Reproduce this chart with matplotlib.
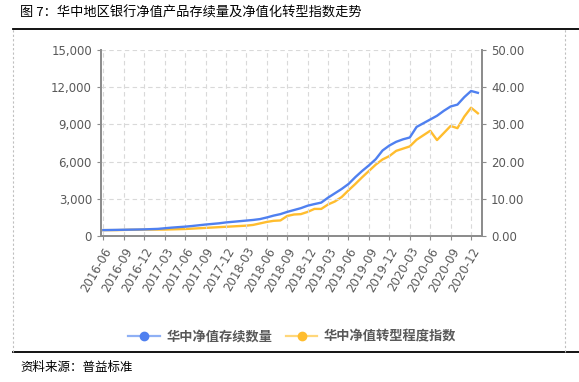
import matplotlib
matplotlib.use('Agg')
import matplotlib.pyplot as plt
from matplotlib.lines import Line2D
from matplotlib.ticker import FuncFormatter

plt.rcParams['font.family'] = ['Noto Sans CJK SC', 'DejaVu Sans']

# colours
blue = '#4f80f0'
orange = '#ffbd2e'
grey_txt = '#595959'
spine_c = '#8c8c8c'

# data, monthly from 2016-06 to 2021-01
months = []
for y in range(2016, 2022):
    for m in range(1, 13):
        if (y == 2016 and m < 6) or (y == 2021 and m > 1):
            continue
        months.append('%d-%02d' % (y, m))

stock_count = [480, 490, 500, 510, 520, 530, 540, 560, 580, 630,
               680, 720, 760, 810, 870, 930, 980, 1030, 1100, 1150,
               1200, 1250, 1300, 1370, 1500, 1650, 1770, 1950, 2100, 2250,
               2450, 2580, 2700, 3100, 3450, 3800, 4200, 4750, 5250, 5700,
               6200, 6900, 7300, 7600, 7800, 7950, 8800, 9100, 9400, 9700,
               10100, 10450, 10600, 11200, 11700, 11550]
transform_idx = [1.6, 1.6, 1.6, 1.65, 1.7, 1.7, 1.75, 1.75, 1.75, 1.75,
                 1.8, 1.85, 1.9, 2.0, 2.1, 2.2, 2.3, 2.4, 2.5, 2.6,
                 2.7, 2.8, 3.0, 3.4, 3.8, 4.1, 4.2, 5.4, 5.8, 5.9,
                 6.5, 7.3, 7.3, 8.5, 9.3, 10.5, 12.3, 14.0, 15.8, 17.5,
                 19.2, 20.6, 21.5, 22.9, 23.5, 24.1, 25.9, 27.1, 28.3, 25.8,
                 27.7, 29.6, 29.0, 32.1, 34.5, 33.0]

left_ticks = [0, 3000, 6000, 9000, 12000, 15000]
right_ticks = [0, 10, 20, 30, 40, 50]

fig = plt.figure(figsize=(5.79, 3.82), dpi=100)
fig.patch.set_facecolor('white')

ax = fig.add_axes([0.1744, 0.382, 0.658, 0.487])
ax2 = ax.twinx()

x = list(range(len(months)))
ax.plot(x, stock_count, color=blue, lw=1.7)
ax2.plot(x, transform_idx, color=orange, lw=1.7)
ax.set_zorder(2)
ax.patch.set_visible(False)

ax.set_xlim(-0.35, 55.6)
ax.set_ylim(0, 15000)
ax2.set_ylim(0, 50)
ax.set_yticks(left_ticks)
ax2.set_yticks(right_ticks)
ax.yaxis.set_major_formatter(FuncFormatter(lambda v, p: '{:,.0f}'.format(v)))
ax2.yaxis.set_major_formatter(FuncFormatter(lambda v, p: '%.2f' % v))

xt = x[::3]
ax.set_xticks(xt)
ax.set_xticklabels([months[i] for i in xt], rotation=60, ha='right',
                   rotation_mode='anchor', fontsize=8.8, color=grey_txt,
                   family='DejaVu Sans')

ax.grid(True, color='#d9d9d9', ls=(0, (4, 3)), lw=0.8)

for a in (ax, ax2):
    a.spines['top'].set_visible(False)
    for s in ('bottom', 'left', 'right'):
        a.spines[s].set_color(spine_c)
        a.spines[s].set_linewidth(1.3)
    a.tick_params(colors=spine_c, labelcolor=grey_txt, labelsize=8.5,
                  length=3, width=0.8)
for lab in ax.get_yticklabels() + ax2.get_yticklabels():
    lab.set_family('DejaVu Sans')

# legend
h1 = Line2D([], [], color='#8fb0f5', lw=1.6, marker='o', ms=6,
            markerfacecolor=blue, markeredgecolor=blue)
h2 = Line2D([], [], color='#ffd77a', lw=1.6, marker='o', ms=6,
            markerfacecolor=orange, markeredgecolor=orange)
leg = fig.legend([h1, h2], ['华中净值存续数量', '华中净值转型程度指数'],
                 loc='center', bbox_to_anchor=(0.505, 0.12), ncol=2,
                 frameon=False, fontsize=9.5, handlelength=2.4,
                 columnspacing=1.0, handletextpad=0.5)
for t in leg.get_texts():
    t.set_color(grey_txt)
    t.set_fontweight('bold')

# title, frame, source
fig.text(0.035, 0.965, '图 7：华中地区银行净值产品存续量及净值化转型指数走势',
         fontsize=9.5, va='center', ha='left', color='black')
fig.add_artist(Line2D([0.0225, 1.0], [0.923, 0.923], color='black', lw=1.3,
                      transform=fig.transFigure))
fig.add_artist(Line2D([0.0225, 1.0], [0.078, 0.078], color='black', lw=1.3,
                      transform=fig.transFigure))
for xv in (0.0225, 0.976):
    fig.add_artist(Line2D([xv, xv], [0.078, 0.923], color='#bfbfbf', lw=0.8,
                          ls=(0, (2, 2)), transform=fig.transFigure))
fig.text(0.035, 0.038, '资料来源：普益标准', fontsize=9, va='center',
         ha='left', color='black')

fig.savefig('out.png', dpi=100, facecolor='white')
